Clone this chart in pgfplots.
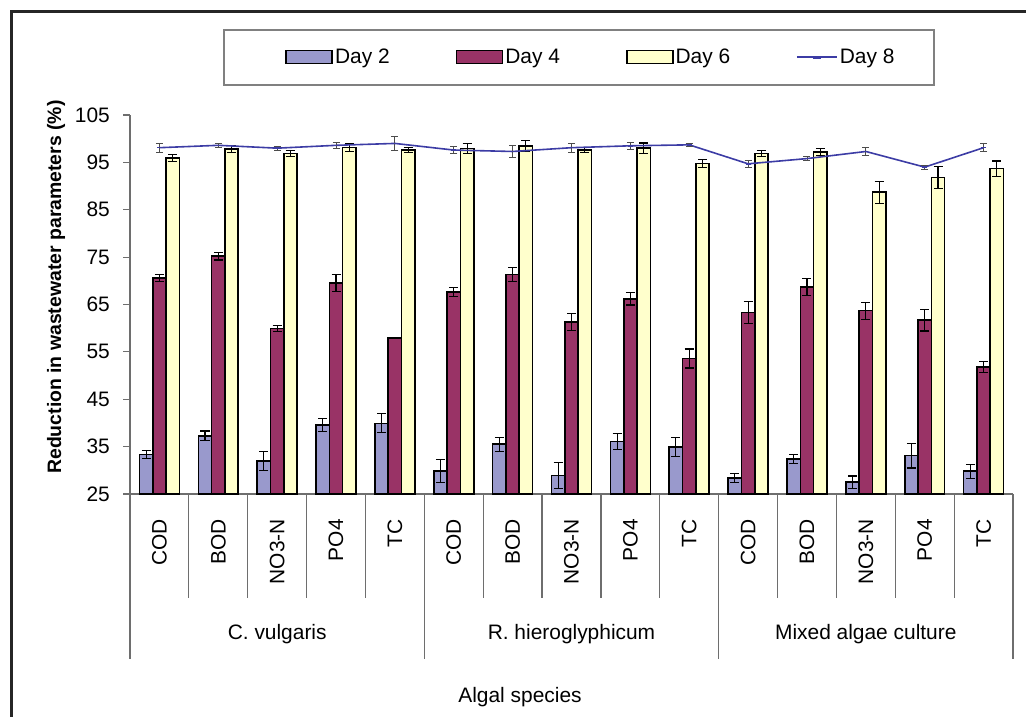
\documentclass[border=0pt]{standalone}
\usepackage{fontspec}
\setmainfont{Liberation Sans}
\usepackage{pgfplots}
\pgfplotsset{compat=1.18}
\usepackage{pgfplotstable}

\definecolor{cD2}{RGB}{153,153,204}
\definecolor{cD4}{RGB}{153,51,102}
\definecolor{cD6}{RGB}{255,255,204}
\definecolor{cLine}{RGB}{60,60,165}
\definecolor{cAx}{RGB}{110,110,110}

\pgfplotstableread{
x  d2   e2   d4   e4   d6   e6   d8   e8
0  33.3 0.8  70.6 0.7  95.9 0.8  98.1 1.0
1  37.3 1.0  75.2 0.8  97.8 0.8  98.6 0.5
2  32.0 2.0  59.9 0.6  96.9 0.6  98.0 0.4
3  39.6 1.4  69.6 1.8  98.1 0.8  98.6 0.6
4  39.9 2.0  57.9 0.0  97.6 0.6  99.0 1.5
5  29.9 2.4  67.6 1.0  97.9 1.0  97.6 0.8
6  35.5 1.5  71.3 1.5  98.5 1.2  97.3 1.2
7  28.9 2.8  61.3 1.8  97.6 0.6  98.1 1.0
8  36.1 1.7  66.2 1.3  98.0 1.1  98.5 0.8
9  34.9 2.0  53.6 2.0  94.8 0.8  98.7 0.4
10 28.4 0.9  63.3 2.3  96.9 0.6  94.7 0.8
11 32.4 1.0  68.7 1.8  97.2 0.7  95.8 0.4
12 27.5 1.3  63.7 1.8  88.7 2.3  97.3 0.8
13 33.1 2.6  61.7 2.3  91.8 2.4  94.0 0.4
14 29.8 1.5  51.8 1.2  93.7 1.6  98.1 0.8
}\data

\newcommand{\tf}{\fontsize{21}{25}\selectfont}

\pgfplotsset{
  errb/.style={only marks, mark=*, mark size=0pt, mark options={draw=none, fill=none}, forget plot,
    error bars/.cd, y dir=both, y explicit,
    error bar style={black, line width=1.1bp},
    error mark options={rotate=90, mark size=4.5bp, black, line width=1.1bp}},
  barleg/.style={legend image code/.code={\draw[fill=#1, draw=black, line width=1.6bp] (0bp,-6.5bp) rectangle (46bp,6.5bp);}},
}

\begin{document}
\begin{tikzpicture}[x=1bp,y=1bp]
\begin{axis}[
  at={(130bp,-494bp)}, anchor=south west,
  width=883bp, height=379bp, scale only axis,
  xmin=-0.5, xmax=14.5, ymin=25, ymax=105,
  ytick={25,35,...,105},
  xtick={0,...,14},
  xticklabels={COD,BOD,NO3-N,PO4,TC,COD,BOD,NO3-N,PO4,TC,COD,BOD,NO3-N,PO4,TC},
  axis x line*=bottom, axis y line*=left,
  axis line style={cAx, line width=1.2bp},
  tick align=outside, major tick length=7bp,
  xtick style={draw=none},
  ytick style={cAx, line width=1.2bp},
  xticklabel style={rotate=90, anchor=east, font=\tf, inner sep=0pt},
  xticklabel shift=18bp,
  yticklabel style={font=\tf, inner sep=0pt},
  yticklabel shift=13bp,
  /pgf/number format/assume math mode=true,
  clip mode=individual,
  legend style={at={(0.522,1.153)}, anchor=center, draw=none, fill=none,
    font=\tf, legend columns=4, legend cell align=left,
    /tikz/every even column/.append style={column sep=64bp},
    /tikz/every odd column/.append style={column sep=0bp}},
]
\addplot[ybar, bar width=0.226, bar shift=-0.226, fill=cD2, draw=black, line width=1.6bp, barleg=cD2]
  table[x=x, y=d2]{\data};
\addlegendentry{Day 2}
\addplot[ybar, bar width=0.226, bar shift=0, fill=cD4, draw=black, line width=1.6bp, barleg=cD4]
  table[x=x, y=d4]{\data};
\addlegendentry{Day 4}
\addplot[ybar, bar width=0.226, bar shift=0.226, fill=cD6, draw=black, line width=1.6bp, barleg=cD6]
  table[x=x, y=d6]{\data};
\addlegendentry{Day 6}
\addplot[errb] table[x expr=\thisrow{x}-0.226, y=d2, y error=e2]{\data};
\addplot[errb] table[x=x, y=d4, y error=e4]{\data};
\addplot[errb] table[x expr=\thisrow{x}+0.226, y=d6, y error=e6]{\data};
\addplot[cLine, line width=1.6bp, mark=-, mark size=2.5bp,
  legend image code/.code={\draw[cLine, line width=1.6bp] (0bp,0bp) -- (40bp,0bp); \draw[cLine, line width=1.2bp] (16bp,-1.5bp) -- (24bp,-1.5bp);},
  error bars/.cd, y dir=both, y explicit,
  error bar style={black!70, line width=0.9bp},
  error mark options={rotate=90, mark size=3.5bp, black!70, line width=0.9bp}]
  table[x=x, y=d8, y error=e8]{\data};
\addlegendentry{Day 8}
\end{axis}

% separators below the axis
\foreach \k in {1,2,3,4,6,7,8,9,11,12,13,14}
  \draw[cAx, line width=1.2bp] ({130+\k*58.867},-494) -- ({130+\k*58.867},-598);
\foreach \k in {0,5,10,15}
  \draw[cAx, line width=1.2bp] ({130+\k*58.867},-494) -- ({130+\k*58.867},-659);

\node[font=\tf] at (277.2,-634) {C. vulgaris};
\node[font=\tf] at (571.5,-634) {R. hieroglyphicum};
\node[font=\tf] at (865.8,-634) {Mixed algae culture};
\node[font=\tf] at (520,-697) {Algal species};
\node[font=\bfseries\fontsize{19.5}{23}\selectfont, rotate=90] at (56,-287) {Reduction in wastewater parameters (\%)};

% legend frame
\draw[gray, line width=1.3bp] (224,-30) rectangle (934,-85);
% outer frame
\draw[black!85, line width=3bp] (11,-717) -- (11,-12) -- (1026,-12);

\pgfresetboundingbox
\path[use as bounding box] (0,0) rectangle (1026,-717);
\end{tikzpicture}
\end{document}
